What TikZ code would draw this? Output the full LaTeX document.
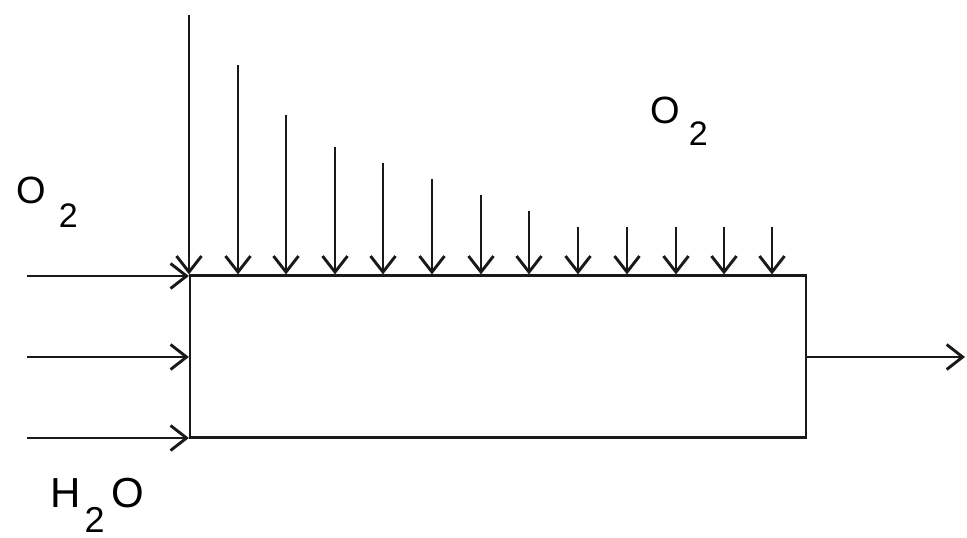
\documentclass[tikz,border=0pt]{standalone}
\usepackage{fontspec}
\setmainfont{Liberation Sans}
\usetikzlibrary{arrows.meta}
\newcommand{\subn}[3]{\hspace{#1pt}\raisebox{-#2pt}{\fontsize{#3}{#3}\selectfont 2}}
\begin{document}
\begin{tikzpicture}[x=1pt,y=-1pt,
  flow/.style={line width=2.9pt, draw=black!90, -{Straight Barb[length=16pt,width=25pt]}},
  lbl/.style={inner sep=0pt, anchor=base west, font=\fontsize{38}{38}\selectfont}]
\useasboundingbox (0,0) rectangle (967,538);
\node[draw=black!90, line width=2.2pt, minimum width=616pt, minimum height=162pt, inner sep=0pt] (box) at (498,356.5) {};
% down arrows
\foreach \i/\x/\t in {1/189/15,2/238/65,3/286/115,4/335/147,5/383/163,6/432/179,7/481/195,8/529/211,9/578/227,10/627/227,11/676/227,12/724/227,13/772/227}{
  \coordinate (t\i) at (\x,\t);
  \draw[flow] (t\i) -- (t\i |- box.north);
}
% left arrows
\foreach \i/\y in {1/276,2/357,3/438}{
  \coordinate (l\i) at (27,\y);
  \draw[flow] (l\i) -- (l\i -| box.west);
}
% right arrow
\coordinate (rout) at (965,357);
\draw[flow] (box.east |- rout) -- (rout);
% labels
\node[lbl] (o2left) at (16,203) {O\subn{13}{24}{34}};
\node[lbl] (o2right) at (650,123) {O\subn{9}{22}{34}};
\node[lbl, font=\fontsize{42}{42}\selectfont] (h2o) at (50,507) {H\subn{4}{25}{36}\hspace{7pt}O};
\end{tikzpicture}
\end{document}
